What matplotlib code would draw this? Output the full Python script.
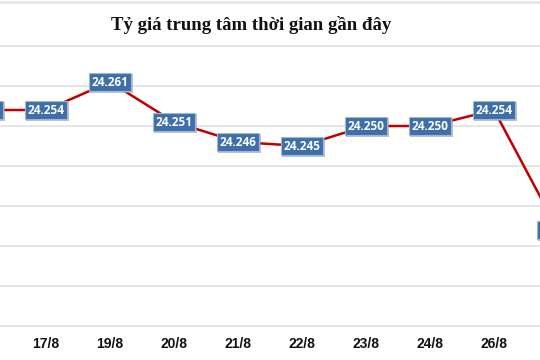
import matplotlib
matplotlib.use("Agg")
import matplotlib.pyplot as plt
from matplotlib.lines import Line2D
import matplotlib.patheffects as pe

# ------------------------------------------------------------------
# Données (tỷ giá trung tâm, VND/USD)
# ------------------------------------------------------------------
ngay = ["16/8", "17/8", "19/8", "20/8", "21/8", "22/8", "23/8", "24/8", "26/8", "27/8"]
ty_gia = [24.254, 24.254, 24.261, 24.251, 24.246, 24.245, 24.250, 24.250, 24.254, 24.224]
nhan = ["24.254", "24.254", "24.261", "24.251", "24.246", "24.245", "24.250", "24.250", "24.254", "24.224"]
luoi_y = [24.200, 24.210, 24.220, 24.230, 24.240, 24.250, 24.260, 24.270]
tieu_de = "Tỷ giá trung tâm thời gian gần đây"

W, H = 540, 360
fig = plt.figure(figsize=(W / 100, H / 100), dpi=100)
fig.patch.set_facecolor("white")

# the chart is cropped on both sides: axes wider than the figure
x0_px = -50          # pixel of x = -0.5
largeur_px = 640     # 64 px per category
bas_px, haut_px = 326, 46
ax = fig.add_axes([x0_px / W, (H - bas_px) / H, largeur_px / W, (bas_px - haut_px) / H])
ax.set_xlim(-0.5, len(ngay) - 0.5)
ax.set_ylim(luoi_y[0], luoi_y[-1])

for v in luoi_y:
    ax.axhline(v, color="#e4e4e4", lw=1.3, zorder=0, clip_on=False)

xs = list(range(len(ngay)))
ax.plot(xs, ty_gia, color="#c00000", lw=1.8, zorder=2, clip_on=False)

for x, y, t in zip(xs, ty_gia, nhan):
    ax.text(x, y, t, ha="center", va="center", fontsize=8.5, fontweight="bold",
            color="white", family="Open Sans", zorder=4, clip_on=False,
            bbox=dict(boxstyle="square,pad=0.25", facecolor="#3f6fa9",
                      edgecolor="#9db8dc", lw=0.8,
                      path_effects=[pe.withSimplePatchShadow(offset=(1.2, -1.2),
                                                             shadow_rgbFace="#9a9a9a", alpha=0.6)]))

# only the visible dates get a label (first and last fall outside the crop)
ax.set_xticks(xs[1:-1])
ax.set_xticklabels(ngay[1:-1], fontsize=10, fontweight="bold", family="Liberation Sans", color="#111111")
ax.tick_params(axis="x", length=0, pad=8)
ax.set_yticks([])
for s in ax.spines.values():
    s.set_visible(False)

fig.text(251 / W, 1 - 25 / H, tieu_de, ha="center", va="center", fontsize=13.5,
         fontweight="bold", family="Liberation Serif", color="#111111")

# liseré gris en haut
fig.add_artist(Line2D([0, 1], [1 - 1.5 / H, 1 - 1.5 / H], color="#e6e6e6", lw=2,
                      transform=fig.transFigure))

fig.savefig("out.png", dpi=100, facecolor="white")
